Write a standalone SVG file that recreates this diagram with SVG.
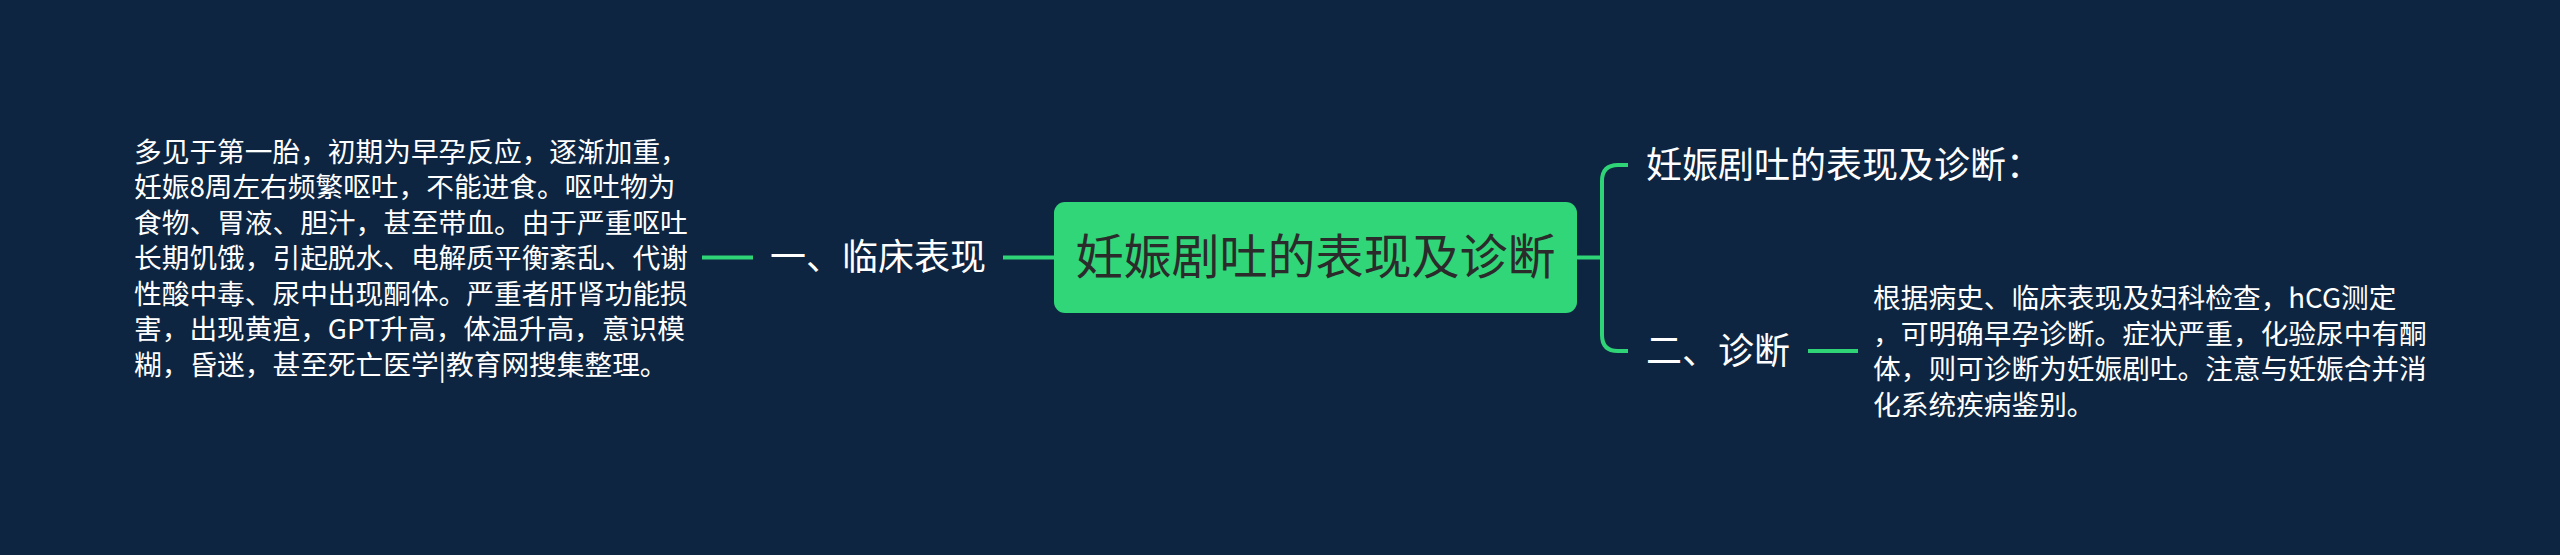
<svg xmlns="http://www.w3.org/2000/svg" width="2560" height="555" viewBox="0 0 2560 555">
<style>
.t{font-family:"Noto Sans CJK SC","Noto Sans",sans-serif;fill:#ffffff}
.b{font-size:27.7px}
.m{font-size:36px}
.c{font-family:"Noto Sans CJK SC","Noto Sans",sans-serif;font-size:48px;fill:#2b2b2b}
.ln{fill:none;stroke:#2fd477;stroke-width:4;stroke-linecap:butt}
</style>
<rect x="0" y="0" width="2560" height="555" fill="#0d2541"/>
<g id="connectors">
<line class="ln" x1="702" y1="257.5" x2="753" y2="257.5"/>
<line class="ln" x1="1003" y1="257.5" x2="1054" y2="257.5"/>
<line class="ln" x1="1577" y1="257.5" x2="1602" y2="257.5"/>
<path class="ln" d="M1628 165 H1618 Q1602 165 1602 181 V335 Q1602 351 1618 351 H1628"/>
<line class="ln" x1="1808" y1="351" x2="1858" y2="351"/>
</g>
<g id="root">
<rect x="1054" y="202" width="523" height="111" rx="11" fill="#31d679"/>
<text class="c" x="1315.5" y="274" text-anchor="middle">妊娠剧吐的表现及诊断</text>
</g>
<g id="n1">
<text class="t m" x="770" y="270">一、临床表现</text>
</g>
<g id="n1-detail">
<text class="t b" x="134">
<tspan x="134" y="161.5">多见于第一胎，初期为早孕反应，逐渐加重，</tspan>
<tspan x="134" y="197">妊娠8周左右频繁呕吐，不能进食。呕吐物为</tspan>
<tspan x="134" y="232.5">食物、胃液、胆汁，甚至带血。由于严重呕吐</tspan>
<tspan x="134" y="268">长期饥饿，引起脱水、电解质平衡紊乱、代谢</tspan>
<tspan x="134" y="303.5">性酸中毒、尿中出现酮体。严重者肝肾功能损</tspan>
<tspan x="134" y="339">害，出现黄疸，GPT升高，体温升高，意识模</tspan>
<tspan x="134" y="374.5">糊，昏迷，甚至死亡医学|教育网搜集整理。</tspan>
</text>
</g>
<g id="n2">
<text class="t m" x="1646" y="178">妊娠剧吐的表现及诊断：</text>
</g>
<g id="n3">
<text class="t m" x="1646" y="364">二、诊断</text>
</g>
<g id="n3-detail">
<text class="t b" x="1873">
<tspan x="1873" y="308">根据病史、临床表现及妇科检查，hCG测定</tspan>
<tspan x="1873" y="343.5">，可明确早孕诊断。症状严重，化验尿中有酮</tspan>
<tspan x="1873" y="379">体，则可诊断为妊娠剧吐。注意与妊娠合并消</tspan>
<tspan x="1873" y="414.5">化系统疾病鉴别。</tspan>
</text>
</g>
</svg>
